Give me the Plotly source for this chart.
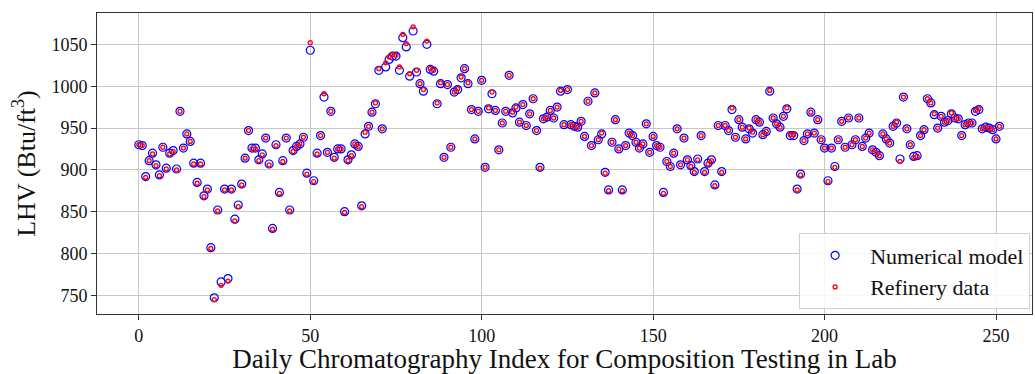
import plotly.graph_objects as go

index = list(range(252))

numerical_model = [
    930, 929, 892, 911, 920, 906, 894, 927, 902, 920,
    923, 901, 970, 926, 943, 934, 908, 885, 908, 869,
    877, 807, 747, 852, 766, 877, 770, 877, 841, 858,
    883, 914, 947, 926, 926, 912, 919, 938, 907, 830,
    930, 873, 911, 938, 852, 923, 928, 931, 939, 896,
    1043, 887, 920, 941, 987, 921, 970, 915, 925, 925,
    850, 912, 918, 931, 928, 857, 943, 952, 969, 979,
    1019, 949, 1023, 1032, 1036, 1036, 1019, 1058, 1047, 1012,
    1066, 1017, 1003, 994, 1050, 1020, 1018, 979, 1003, 915,
    1002, 927, 993, 996, 1010, 1021, 1003, 972, 937, 970,
    1007, 903, 973, 991, 971, 924, 956, 970, 1013, 968,
    974, 957, 978, 953, 967, 985, 947, 903, 961, 963,
    971, 962, 975, 994, 954, 996, 954, 952, 951, 958,
    940, 982, 929, 992, 936, 943, 897, 876, 933, 960,
    925, 876, 929, 944, 941, 933, 926, 931, 955, 921,
    940, 929, 927, 873, 910, 904, 920, 949, 906, 938,
    912, 905, 898, 913, 941, 898, 908, 912, 882, 953,
    898, 953, 947, 972, 939, 960, 951, 937, 949, 944,
    960, 957, 942, 946, 994, 962, 955, 951, 964, 973,
    941, 941, 877, 895, 935, 943, 969, 944, 960, 936,
    926, 887, 926, 904, 936, 958, 927, 962, 930, 936,
    962, 928, 938, 944, 924, 921, 917, 943, 937, 932,
    952, 956, 913, 987, 949, 930, 916, 917, 941, 948,
    985, 980, 966, 950, 964, 957, 959, 967, 962, 961,
    941, 954, 956, 956, 970, 972, 949, 951, 950, 948,
    937, 952,
]

refinery_data = [
    930, 929, 891, 911, 919, 905, 893, 927, 901, 919,
    922, 900, 970, 926, 943, 934, 907, 884, 907, 868,
    876, 806, 745, 851, 762, 876, 767, 876, 839, 856,
    882, 914, 947, 925, 925, 911, 918, 938, 906, 829,
    929, 872, 910, 938, 851, 922, 928, 931, 939, 895,
    1052, 886, 919, 941, 991, 921, 970, 914, 925, 925,
    849, 911, 917, 931, 928, 856, 945, 952, 969, 980,
    1021, 949, 1028, 1035, 1038, 1037, 1023, 1062, 1051, 1015,
    1071, 1019, 1003, 996, 1054, 1021, 1019, 980, 1004, 915,
    1002, 927, 993, 997, 1011, 1021, 1004, 972, 937, 970,
    1007, 903, 974, 993, 971, 924, 956, 970, 1013, 969,
    975, 957, 978, 953, 967, 985, 947, 902, 961, 963,
    971, 962, 975, 995, 954, 996, 954, 952, 951, 958,
    940, 982, 929, 992, 936, 944, 896, 875, 933, 960,
    925, 875, 929, 944, 941, 933, 926, 931, 955, 921,
    940, 929, 927, 872, 910, 904, 920, 949, 906, 938,
    912, 904, 897, 912, 941, 897, 907, 911, 881, 953,
    897, 953, 947, 974, 939, 960, 951, 937, 950, 945,
    960, 957, 942, 946, 995, 962, 955, 951, 964, 974,
    942, 942, 876, 894, 935, 943, 969, 944, 960, 936,
    926, 886, 926, 903, 936, 958, 927, 962, 930, 936,
    962, 928, 938, 944, 924, 921, 917, 943, 937, 932,
    952, 957, 910, 987, 949, 930, 915, 916, 941, 948,
    985, 980, 967, 950, 964, 957, 959, 968, 962, 961,
    941, 954, 956, 956, 971, 973, 949, 951, 950, 948,
    937, 952,
]

x_ticks = [0, 50, 100, 150, 200, 250]
y_ticks = [750, 800, 850, 900, 950, 1000, 1050]

FONT = "Liberation Serif, Times New Roman, serif"

fig = go.Figure()
fig.add_trace(go.Scatter(
    x=index, y=numerical_model, mode="markers", name="Numerical model",
    marker=dict(symbol="circle-open", size=8, color="#0000ff", line=dict(width=1.2)),
))
fig.add_trace(go.Scatter(
    x=index, y=refinery_data, mode="markers", name="Refinery data",
    marker=dict(symbol="circle-open", size=4, color="#ff0000", line=dict(width=1.3)),
))

axis_common = dict(
    showline=True, linecolor="#333333", linewidth=1, mirror=True,
    ticks="outside", ticklen=5, tickcolor="#333333",
    showgrid=True, gridcolor="#c8c8c8", gridwidth=1, zeroline=False,
    tickfont=dict(family=FONT, size=18, color="#111111"),
)

fig.update_layout(
    width=1035, height=374,
    margin=dict(l=97, r=2, t=13, b=54),
    paper_bgcolor="white", plot_bgcolor="white",
    font=dict(family=FONT, color="#111111"),
    xaxis=dict(
        range=[-12.2, 260.5], tickvals=x_ticks,
        title=dict(text="Daily Chromatography Index for Composition Testing in Lab",
                   font=dict(family=FONT, size=27), standoff=8),
        **axis_common,
    ),
    yaxis=dict(
        range=[727.7, 1087.5], tickvals=y_ticks,
        title=dict(text="LHV (Btu/ft<sup>3</sup>)", font=dict(family=FONT, size=26), standoff=8),
        **axis_common,
    ),
    legend=dict(
        x=0.998, y=0.015, xanchor="right", yanchor="bottom",
        bgcolor="rgba(255,255,255,0.85)", bordercolor="#d0d0d0", borderwidth=1,
        font=dict(family=FONT, size=22), itemwidth=60, tracegroupgap=0,
    ),
    showlegend=True,
)

fig.write_html("out.html")
